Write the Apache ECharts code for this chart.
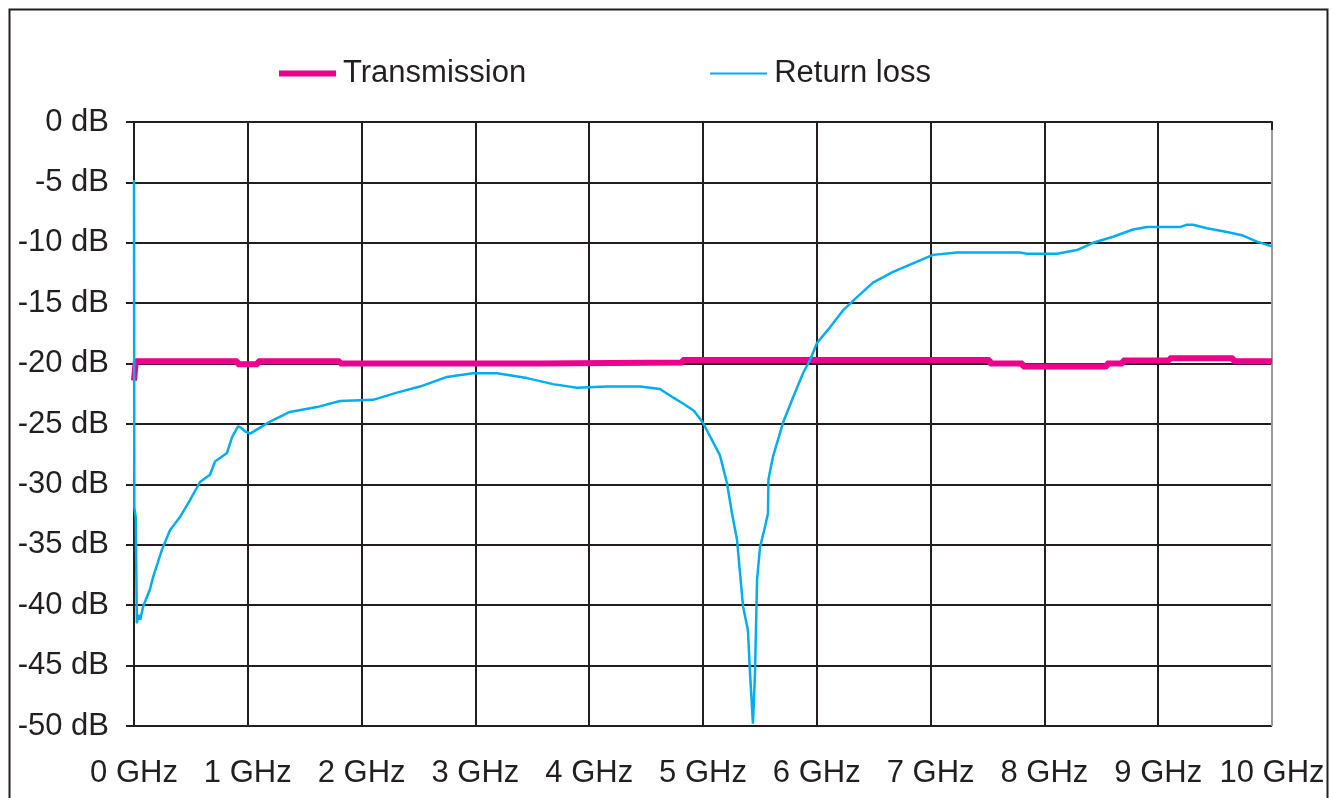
<!DOCTYPE html>
<html>
<head>
<meta charset="utf-8">
<title>Transmission / Return loss</title>
<script src="https://cdn.jsdelivr.net/npm/echarts@6/dist/echarts.min.js"></script>
<style>
  html, body { margin: 0; padding: 0; background: #fff; }
  #chartDiv { width: 1332px; height: 798px; }
</style>
</head>
<body>
<div id="chartDiv"></div>
<script>
// series names
var seriesNames = ['Transmission', 'Return loss'];

// transmission (GHz / dB), values hold until next point
var transFreq = [0, 0.016, 0.91, 1.09, 1.81, 2.01, 3.57, 4.82, 7.52, 7.81, 8.55, 8.69, 9.10, 9.66, 10];
var transLoss = [-21.4, -19.8, -20.05, -19.8, -20.0, -20.0, -19.9, -19.7, -20.0, -20.25, -20.0, -19.75, -19.55, -19.8, -19.8];

// return loss (GHz / dB)
var returnFreq = [0, 0.003, 0.015, 0.025, 0.04, 0.055, 0.08, 0.14, 0.167, 0.246, 0.316, 0.404, 0.492, 0.58,
  0.668, 0.712, 0.817, 0.861, 0.914, 0.94, 0.975, 1.02, 1.195, 1.37, 1.608, 1.81, 2.1, 2.31, 2.513, 2.75,
  2.979, 3.19, 3.453, 3.682, 3.893, 4.156, 4.446, 4.622, 4.736, 4.824, 4.92, 5.0, 5.149, 5.211, 5.255,
  5.299, 5.325, 5.352, 5.395, 5.413, 5.439, 5.457, 5.475, 5.501, 5.545, 5.571, 5.575, 5.615, 5.703,
  5.791, 5.879, 5.94, 6.002, 6.116, 6.23, 6.353, 6.494, 6.67, 6.845, 7.021, 7.232, 7.786, 7.847, 8.111,
  8.286, 8.427, 8.603, 8.779, 8.902, 9.192, 9.253, 9.306, 9.429, 9.605, 9.745, 9.868, 10];
var returnLoss = [-4.8, -31.9, -32.7, -41.5, -40.8, -41.2, -40.1, -38.7, -37.7, -35.4, -33.8, -32.7, -31.3, -29.8,
  -29.2, -28.1, -27.4, -26.1, -25.2, -25.3, -25.6, -25.8, -24.8, -24.0, -23.6, -23.1, -23.0, -22.4, -21.9, -21.1,
  -20.8, -20.8, -21.2, -21.7, -22.0, -21.9, -21.9, -22.1, -22.8, -23.3, -23.9, -24.9, -27.6, -29.9, -32.4,
  -34.6, -37.3, -40.1, -42.1, -45.6, -49.8, -45.6, -37.9, -35.2, -33.5, -32.4, -29.6, -27.7, -24.9,
  -22.8, -20.8, -19.7, -18.3, -17.0, -15.6, -14.5, -13.3, -12.4, -11.7, -11.0, -10.8, -10.8, -10.9, -10.9,
  -10.6, -10.0, -9.5, -8.9, -8.7, -8.7, -8.5, -8.5, -8.8, -9.1, -9.4, -9.9, -10.3];

// axes
var xMin = 0, xMax = 10, xStep = 1;
var yMin = -50, yMax = 0, yStep = 5;

function pairs(xs, ys) {
    var out = [];
    for (var i = 0; i < xs.length; i++) out.push([xs[i], ys[i]]);
    return out;
}

var ink = '#231f20';
var fontSize = 31;
var gridColors = [];
for (var i = 0; i < 10; i++) gridColors.push(ink);
gridColors.push('#9a9a9a');

var myChart = echarts.init(document.getElementById('chartDiv'));
var option = {
    backgroundColor: '#fff',
    textStyle: { fontFamily: 'Liberation Sans, Arial, sans-serif' },
    graphic: [{
        type: 'rect',
        left: 7, top: 7,
        shape: { width: 1318, height: 900 },
        style: { fill: 'none', stroke: ink, lineWidth: 2 },
        silent: true
    }],
    legend: {
        left: 279,
        top: 58,
        padding: 0,
        itemWidth: 57,
        itemHeight: 14,
        itemGap: 184,
        symbolKeepAspect: true,
        textStyle: { color: ink, fontSize: fontSize, padding: [0, 0, 0, 2] },
        data: [
            { name: seriesNames[0], icon: 'path://M0,0H57V6H0Z' },
            { name: seriesNames[1], icon: 'path://M0,0H57V2H0Z' }
        ]
    },
    grid: {
        left: 134, right: 60, top: 122, bottom: 72,
        outerBoundsMode: 'none'
    },
    xAxis: {
        type: 'value',
        min: xMin, max: xMax, interval: xStep,
        axisLine: { lineStyle: { color: ink, width: 2 } },
        axisTick: { show: true, length: 8, lineStyle: { color: ink, width: 2 } },
        axisLabel: { color: ink, fontSize: fontSize, margin: 32, formatter: '{value} GHz' },
        splitLine: { show: true, lineStyle: { color: gridColors, width: 2 } }
    },
    yAxis: {
        type: 'value',
        min: yMin, max: yMax, interval: yStep,
        axisLine: { show: true, lineStyle: { color: ink, width: 2 } },
        axisTick: { show: true, length: 8, lineStyle: { color: ink, width: 2 } },
        axisLabel: { color: ink, fontSize: fontSize, margin: 25, formatter: '{value} dB' },
        splitLine: { show: true, lineStyle: { color: gridColors, width: 2 } }
    },
    series: [{
        name: seriesNames[0],
        type: 'line',
        step: 'end',
        symbol: 'none',
        animation: false,
        color: '#ec008c',
        lineStyle: { color: '#ec008c', width: 6 },
        data: pairs(transFreq, transLoss)
    }, {
        name: seriesNames[1],
        type: 'line',
        symbol: 'none',
        animation: false,
        color: '#00aeef',
        lineStyle: { color: '#00aeef', width: 2.5 },
        data: pairs(returnFreq, returnLoss)
    }]
};

myChart.setOption(option);
window.onresize = myChart.resize;
</script>
</body>
</html>
